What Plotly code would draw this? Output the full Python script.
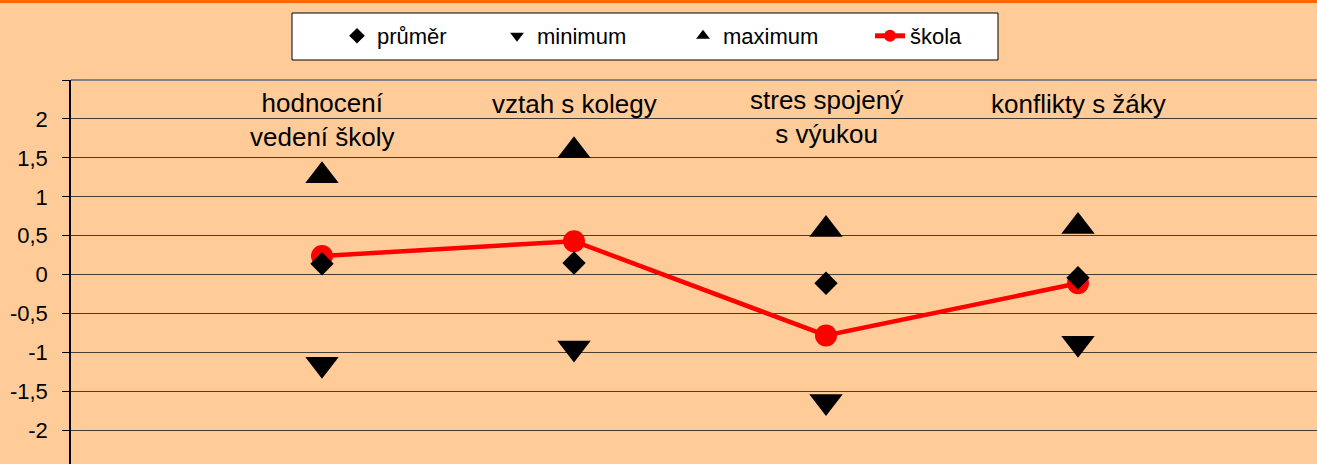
import plotly.graph_objects as go

# ---- data ----
categories = ["hodnocení<br>vedení školy", "vztah s kolegy", "stres spojený<br>s výukou", "konflikty s žáky"]
prumer = [0.14, 0.15, -0.11, -0.04]
minimum = [-1.15, -0.94, -1.63, -0.88]
maximum = [1.27, 1.59, 0.58, 0.62]
skola = [0.24, 0.43, -0.78, -0.11]
tick_vals = [-2.5, -2, -1.5, -1, -0.5, 0, 0.5, 1, 1.5, 2, 2.5]
tick_text = ["", "-2", "-1,5", "-1", "-0,5", "0", "0,5", "1", "1,5", "2", ""]

# ---- layout constants ----
W, H = 1317, 464
ML, MT = 71, 80
PW, PH = W - ML, H - MT
BG = "#FFCC99"
FONT = "Arial, Liberation Sans, sans-serif"
label_y = [1.98, 2.19, 2.02, 2.19]

xs = list(range(1, len(categories) + 1))

def py(px):
    """figure pixel y (from top) -> paper coordinate"""
    return 1 + (MT - px) / PH

def px_(px):
    return (px - ML) / PW

fig = go.Figure()
fig.add_trace(go.Scatter(
    x=xs, y=skola, name="škola", mode="lines+markers",
    line=dict(color="#FF0000", width=4.5),
    marker=dict(symbol="circle", size=22, color="#FF0000"),
    legendrank=4, legendwidth=60,
))
fig.add_trace(go.Scatter(
    x=xs, y=prumer, name="průměr", mode="markers",
    marker=dict(symbol="diamond", size=18, color="#000000"),
    legendrank=1, legendwidth=115,
))
fig.add_trace(go.Scatter(
    x=xs, y=minimum, name="minimum", mode="markers",
    marker=dict(symbol="triangle-down", size=29, color="#000000"),
    legendrank=2, legendwidth=141,
))
fig.add_trace(go.Scatter(
    x=xs, y=maximum, name="maximum", mode="markers",
    marker=dict(symbol="triangle-up", size=29, color="#000000"),
    legendrank=3, legendwidth=142,
))

for x, lab, yy in zip(xs, categories, label_y):
    fig.add_annotation(x=x, y=yy, xref="x", yref="y", text=lab, showarrow=False,
                       font=dict(family=FONT, size=26, color="#000000"),
                       xanchor="center", yanchor="middle", align="center")

shapes = [
    # orange top rule
    dict(type="rect", xref="paper", yref="paper", x0=px_(0), x1=px_(W), y0=py(3), y1=py(0),
         fillcolor="#FF6600", line=dict(width=0), layer="above"),
    # plot area top border
    dict(type="line", xref="paper", yref="paper", x0=0, x1=1, y0=1, y1=1,
         line=dict(color="#808080", width=2), layer="above"),
    # legend box
    dict(type="rect", xref="paper", yref="paper", x0=px_(292), x1=px_(998), y0=py(60), y1=py(13),
         fillcolor="#FFFFFF", line=dict(color="#000000", width=1), layer="above"),
]

fig.update_layout(
    width=W, height=H,
    margin=dict(l=ML, r=0, t=MT, b=0, pad=0),
    paper_bgcolor=BG, plot_bgcolor=BG,
    font=dict(family=FONT, size=22, color="#000000"),
    showlegend=True,
    legend=dict(orientation="h", x=px_(337), y=py(36), xanchor="left", yanchor="middle",
                bgcolor="rgba(0,0,0,0)", borderwidth=0, font=dict(size=22, family=FONT),
                itemsizing="constant"),
    shapes=shapes,
    xaxis=dict(range=[(ML - 70) / 252, (W - 70) / 252], showgrid=False, zeroline=False,
               showticklabels=False, ticks="", showline=False, fixedrange=True),
    yaxis=dict(range=[-2.431, 2.5], tickvals=tick_vals, ticktext=tick_text,
               showgrid=True, gridcolor="#4a3d30", gridwidth=1, zeroline=False,
               showline=True, linecolor="#000000", linewidth=1.5,
               ticks="outside", ticklen=7, tickcolor="#000000", tickwidth=1,
               ticklabelstandoff=10, tickfont=dict(size=22, family=FONT)),
)

fig.write_html("out.html", config={"displayModeBar": False},
               post_script="document.body.style.margin='0px';document.body.style.overflow='hidden';")
